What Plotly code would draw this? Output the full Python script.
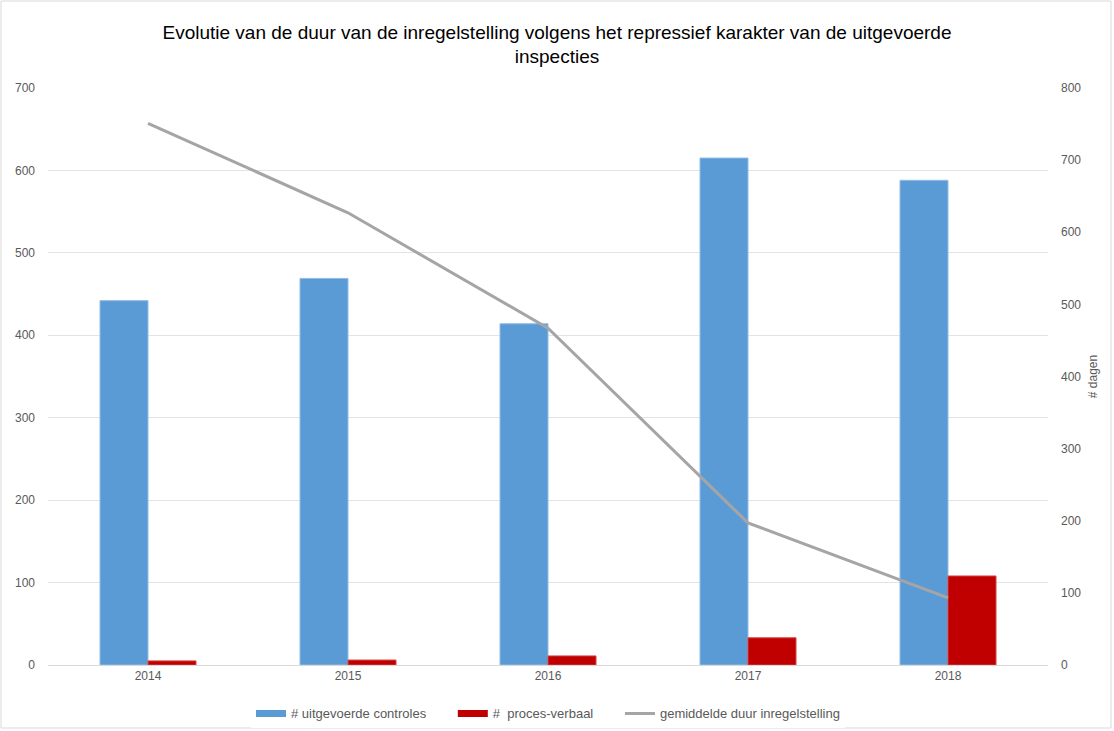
import plotly.graph_objects as go

jaren = ["2014", "2015", "2016", "2017", "2018"]
controles = [442, 469, 414, 615, 588]
proces_verbaal = [5, 6, 11, 33, 108]
gem_duur = [751, 627, 467, 197, 93]

font = "Liberation Sans"
grijs = "#595959"
blauw = "#5b9bd5"
rood = "#c00000"
lijn = "#a5a5a5"
ruimte = "\u00a0" * 6

fig = go.Figure()
fig.add_trace(go.Bar(x=jaren, y=controles, name="# uitgevoerde controles", showlegend=False,
                     marker=dict(color=blauw, line=dict(color="#8fbce6", width=1))))
fig.add_trace(go.Bar(x=jaren, y=proces_verbaal, name="#  proces-verbaal", showlegend=False,
                     marker=dict(color=rood, line=dict(color="#d84040", width=1))))
fig.add_trace(go.Scatter(x=jaren, y=gem_duur, name="gemiddelde duur inregelstelling",
                         mode="lines", line=dict(color=lijn, width=3), yaxis="y2",
                         showlegend=False))

# legenda zoals in Excel: brede rechthoekjes voor de staven
for naam, kleur, dikte in [("# uitgevoerde controles" + ruimte, blauw, 7),
                           ("#\u00a0 proces-verbaal" + ruimte, rood, 7),
                           ("gemiddelde duur inregelstelling", lijn, 3)]:
    fig.add_trace(go.Scatter(x=[None], y=[None], mode="lines", name=naam,
                             line=dict(color=kleur, width=dikte)))

fig.update_layout(
    width=1114, height=731,
    margin=dict(l=48, r=66, t=88, b=66, autoexpand=False),
    paper_bgcolor="white", plot_bgcolor="white",
    font=dict(family=font, color=grijs, size=12),
    title=dict(text="Evolutie van de duur van de inregelstelling volgens het repressief karakter van de uitgevoerde<br>inspecties",
               x=0.5, xanchor="center", y=0.947, yanchor="top",
               font=dict(size=19, color="#000000", family=font)),
    barmode="group", bargap=0.52, bargroupgap=0,
    xaxis=dict(showgrid=False, showline=True, linecolor="#d9d9d9", linewidth=1,
               ticks="", tickfont=dict(size=12, color=grijs)),
    yaxis=dict(range=[0, 700], dtick=100, showgrid=True, gridcolor="#e3e3e3",
               zeroline=False, ticks="", tickfont=dict(size=12, color=grijs),
               ticklabelstandoff=12),
    yaxis2=dict(range=[0, 800], dtick=100, overlaying="y", side="right",
                showgrid=False, zeroline=False, ticks="",
                tickfont=dict(size=12, color=grijs), ticklabelstandoff=12,
                title=dict(text="# dagen", font=dict(size=12, color=grijs), standoff=8)),
    legend=dict(orientation="h", x=0.5, xanchor="center", y=-0.058, yanchor="top",
                font=dict(size=13, color=grijs), itemwidth=30, traceorder="normal"),
    shapes=[dict(type="rect", xref="paper", yref="paper",
                 x0=-47 / 1000, x1=(1114 - 48 - 3) / 1000,
                 y0=-(66 - 3) / 577, y1=(731 - 66 - 1) / 577,
                 line=dict(color="#d9d9d9", width=1))],
)

# pagina-marge weg zodat de grafiek op (0,0) begint
fig.write_html("out.html", config={"displayModeBar": False},
               post_script="document.body.style.margin='0';")
